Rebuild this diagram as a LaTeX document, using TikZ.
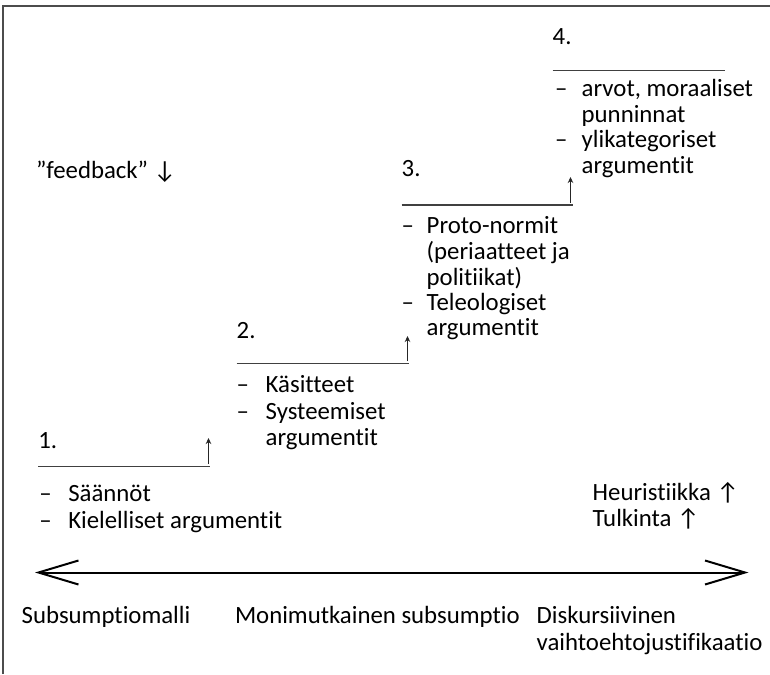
\documentclass[tikz,border=0pt]{standalone}
\usepackage{fontspec}
\setmainfont[Ligatures={NoCommon,NoRare,NoContextual}]{Carlito}
\usetikzlibrary{arrows.meta}
\begin{document}
\begin{tikzpicture}[x=1pt,y=-1pt,
  txt/.style={anchor=base west,inner sep=0pt,outer sep=0pt,font=\fontsize{24.8}{26}\selectfont,text=black},
  framestyle/.style={line width=1.8pt,draw=black!70},
  rulestyle/.style={line width=1.4pt,draw=black!75},
  steparrow/.style={line width=1.1pt,draw=black!85,-{Stealth[length=6pt,width=5.5pt]}},
  axisarrow/.style={line width=2pt,draw=black,{Straight Barb[length=40pt,width=24pt,line width=2pt]}-{Straight Barb[length=40pt,width=24pt,line width=2pt]}}]
\useasboundingbox (0,0) rectangle (770,674);
\fill[white] (0,0) rectangle (770,674);
% frame
\coordinate (fb) at (3,674);
\coordinate (fc) at (3,6);
\coordinate (fr) at (770,6);
\draw[framestyle] (fb) -- (fc) -- (fr);

% feedback
\node[txt] (fbk) at (36,178.3) {”feedback” ↓};

% step 1
\node[txt] (n1) at (38.3,448.3) {1.};
\coordinate (l1s) at (38.3,466.7);
\coordinate (l1e) at (210,466.7);
\draw[rulestyle] (l1s) -- (l1e);
\coordinate (a1b) at (208.5,464);
\coordinate (a1t) at (208.5,438);
\draw[steparrow] (a1b) -- (a1t);
\node[txt] (s1a) at (39.3,501.7) {\makebox[29pt][l]{–}Säännöt};
\node[txt] (s1b) at (39.3,528.3) {\makebox[29pt][l]{–}Kielelliset argumentit};

% step 2
\node[txt] (n2) at (236.7,338) {2.};
\coordinate (l2s) at (236.7,363.3);
\coordinate (l2e) at (408.5,363.3);
\draw[rulestyle] (l2s) -- (l2e);
\coordinate (a2b) at (407.5,361);
\coordinate (a2t) at (407.5,336);
\draw[steparrow] (a2b) -- (a2t);
\node[txt] (s2a) at (236.7,392.7) {\makebox[29pt][l]{–}Käsitteet};
\node[txt] (s2b) at (236.7,419.3) {\makebox[29pt][l]{–}Systeemiset};
\node[txt] (s2c) at (265.7,445) {argumentit};

% step 3
\node[txt] (n3) at (401.7,176.7) {3.};
\coordinate (l3s) at (401.7,205);
\coordinate (l3e) at (572.7,205);
\draw[rulestyle] (l3s) -- (l3e);
\coordinate (a3b) at (570.5,202.5);
\coordinate (a3t) at (570.5,177);
\draw[steparrow] (a3b) -- (a3t);
\node[txt] (s3a) at (401.7,233) {\makebox[25pt][l]{–}Proto-normit};
\node[txt] (s3b) at (426.7,259.5) {(periaatteet ja};
\node[txt] (s3c) at (426.7,285) {politiikat)};
\node[txt] (s3d) at (401.7,310) {\makebox[25pt][l]{–}Teleologiset};
\node[txt] (s3e) at (426.7,335.5) {argumentit};

% step 4
\node[txt] (n4) at (552.7,45) {4.};
\coordinate (l4s) at (552.5,70.7);
\coordinate (l4e) at (725,70.7);
\draw[rulestyle] (l4s) -- (l4e);
\node[txt] (s4a) at (555,96.7) {\makebox[26.7pt][l]{–}arvot, moraaliset};
\node[txt] (s4b) at (581.7,122) {punninnat};
\node[txt] (s4c) at (555,147.3) {\makebox[26.7pt][l]{–}ylikategoriset};
\node[txt] (s4d) at (581.7,173.3) {argumentit};

% heuristics
\node[txt] (heu) at (592.7,500) {Heuristiikka ↑};
\node[txt] (tul) at (592.7,526.7) {Tulkinta ↑};

% axis
\coordinate (axL) at (35,572.5);
\coordinate (axR) at (748.5,572.5);
\draw[axisarrow] (axL) -- (axR);

% bottom labels
\node[txt] (lab1) at (21.7,623.3) {Subsumptiomalli};
\node[txt] (lab2) at (235,623.3) {Monimutkainen subsumptio};
\node[txt] (lab3) at (536.7,623.3) {Diskursiivinen};
\node[txt] (lab3b) at (536.7,650) {vaihtoehtojustifikaatio};
\end{tikzpicture}
\end{document}
